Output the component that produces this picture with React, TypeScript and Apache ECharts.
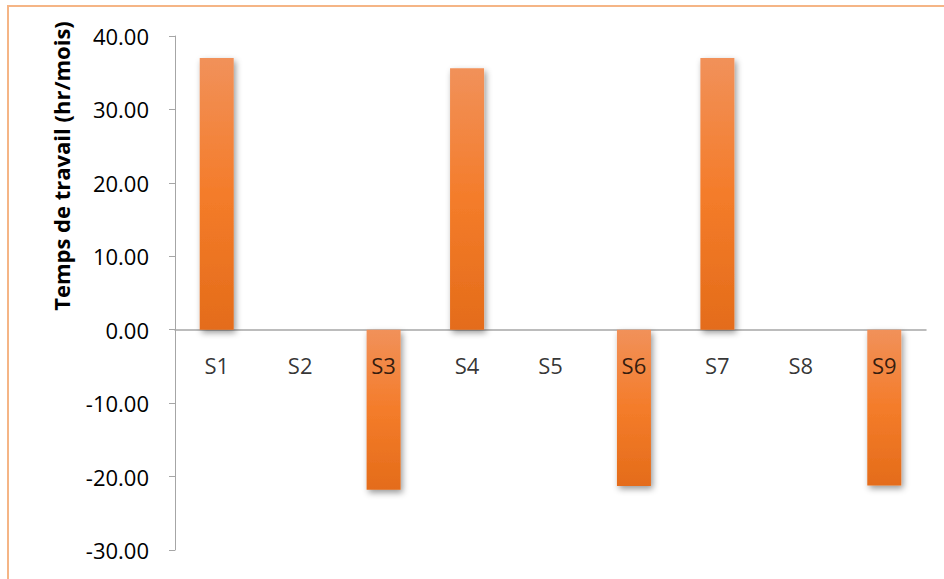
import React, { useEffect, useRef } from "react";
import * as echarts from "echarts";

const categories = ["S1", "S2", "S3", "S4", "S5", "S6", "S7", "S8", "S9"];
const values = [37.0, 0, -21.8, 35.6, 0, -21.3, 37.0, 0, -21.2];
const yMin = -30;
const yMax = 40;
const yStep = 10;
const yTitle = "Temps de travail (hr/mois)";

export default function App() {
  const ref = useRef<HTMLDivElement>(null);
  useEffect(() => {
    document.body.style.margin = "0";
    if (!ref.current) return;
    const chart = echarts.init(ref.current, undefined, { renderer: "svg" });
    const font = "'Open Sans', 'Noto Sans', sans-serif";
    chart.setOption({
      animation: false,
      backgroundColor: "#ffffff",
      grid: { left: 175, right: 18, top: 36, bottom: 29, containLabel: false },
      graphic: [
        {
          type: "rect",
          shape: { x: 8, y: 6, width: 960, height: 600 },
          style: { fill: "none", stroke: "#F5B586", lineWidth: 2 },
          silent: true,
        },
        {
          type: "text",
          x: 61,
          y: 166,
          rotation: Math.PI / 2,
          style: {
            text: yTitle,
            fontFamily: font,
            fontWeight: "bold",
            fontSize: 22,
            fill: "#000000",
            align: "center",
            verticalAlign: "middle",
          },
        },
      ],
      xAxis: {
        type: "category",
        data: categories,
        axisLine: { onZero: true, lineStyle: { color: "#A6A6A6", width: 1.5 } },
        axisTick: { show: false },
        axisLabel: { show: false },
        splitLine: { show: false },
      },
      yAxis: {
        type: "value",
        min: yMin,
        max: yMax,
        interval: yStep,
        axisLine: { show: true, lineStyle: { color: "#A6A6A6", width: 1 } },
        axisTick: { show: true, length: 6, lineStyle: { color: "#A6A6A6" } },
        axisLabel: {
          fontFamily: font,
          fontSize: 22,
          color: "#000000",
          margin: 26,
          formatter: (v: number) => v.toFixed(2),
        },
        splitLine: { show: false },
      },
      series: [
        {
          type: "bar",
          data: values,
          barWidth: 34,
          z: 2,
          itemStyle: {
            color: new echarts.graphic.LinearGradient(0, 0, 0, 1, [
              { offset: 0, color: "#F1915A" },
              { offset: 0.5, color: "#F47C2A" },
              { offset: 1, color: "#E46C1A" },
            ]),
            shadowColor: "rgba(0,0,0,0.4)",
            shadowBlur: 6,
            shadowOffsetX: 2,
            shadowOffsetY: 3,
          },
        },
        {
          type: "scatter",
          data: categories.map((c) => [c, 0]),
          symbolSize: 0,
          z: 10,
          silent: true,
          label: {
            show: true,
            position: "bottom",
            distance: 24,
            formatter: (p: any) => p.data[0],
            fontFamily: font,
            fontSize: 22,
            color: "#000000",
          },
        },
      ],
    });
    return () => chart.dispose();
  }, []);
  return <div ref={ref} style={{ width: 944, height: 579 }} />;
}
